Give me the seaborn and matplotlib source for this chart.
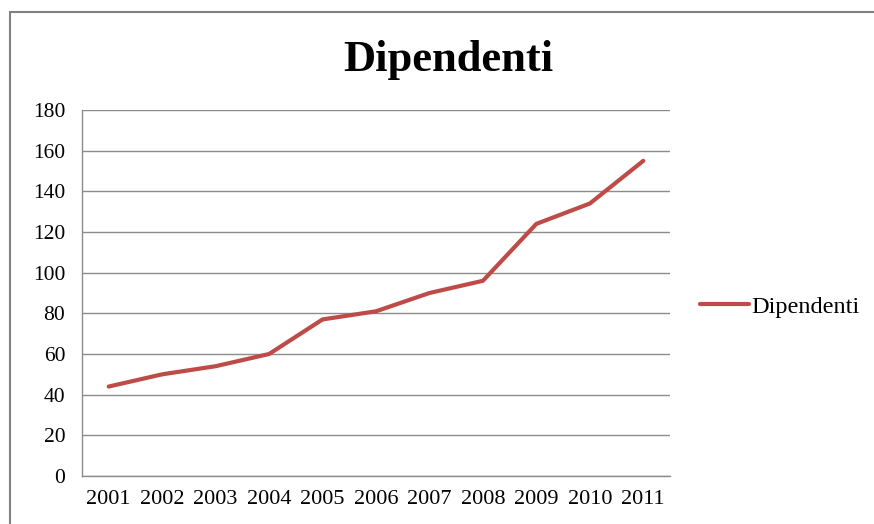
import matplotlib
matplotlib.use("Agg")
import matplotlib.pyplot as plt
from matplotlib.patches import Rectangle
import seaborn as sns
import pandas as pd
import numpy as np

years = ["2001", "2002", "2003", "2004", "2005", "2006", "2007", "2008", "2009", "2010", "2011"]
dipendenti = [44, 50, 54, 60, 77, 81, 90, 96, 124, 134, 155]
y_ticks = [0, 20, 40, 60, 80, 100, 120, 140, 160, 180]

sns.set_style("white")
plt.rcParams['font.family'] = ['Liberation Serif', 'DejaVu Serif']
plt.rcParams['text.color'] = 'black'
plt.rcParams['xtick.labelcolor'] = 'black'
plt.rcParams['ytick.labelcolor'] = 'black'

df = pd.DataFrame({"idx": np.arange(len(years)), "Anno": years, "Dipendenti": dipendenti})

fig = plt.figure(figsize=(8.74, 5.24), dpi=100)
ax = fig.add_axes([82/874, 1-476/524, (670-82)/874, (476-110)/524])

sns.lineplot(data=df, x="idx", y="Dipendenti", ax=ax, color="#BE4B48", linewidth=3.0,
             label="Dipendenti", solid_capstyle="round")

ax.set_xlim(-0.5, len(years) - 0.5)
ax.set_ylim(0, 180)
ax.set_yticks(y_ticks)
ax.set_yticklabels([str(v) for v in y_ticks], fontsize=15.5, color="black")
ax.set_xticks(np.arange(len(years)))
ax.set_xticklabels(years, fontsize=16, color="black")
ax.set_xticks(np.arange(len(years) + 1) - 0.5, minor=True)
ax.tick_params(axis="x", which="major", length=0, pad=10)
ax.tick_params(axis="x", which="minor", length=6, width=1, color="#888888", direction="out")
ax.tick_params(axis="y", which="major", length=6, width=1, color="#888888", direction="out", pad=6)
ax.set_xlabel("")
ax.set_ylabel("")
ax.yaxis.grid(True, color="#8c8c8c", linewidth=1)
ax.xaxis.grid(False)
for s in ["top", "right"]:
    ax.spines[s].set_visible(False)
for s in ["left", "bottom"]:
    ax.spines[s].set_color("#8c8c8c")
    ax.spines[s].set_linewidth(1)
ax.set_axisbelow(True)

leg = ax.legend(loc="center left", bbox_to_anchor=((700-82)/588, (476-307)/366), frameon=False,
                fontsize=17.5, handlelength=2.0, handletextpad=0.1, borderpad=0, borderaxespad=0)
for t in leg.get_texts():
    t.set_color("black")

fig.text(448/874, 1-60/524, "Dipendenti", ha="center", va="center", fontsize=32,
         fontweight="bold", color="black")

fig.add_artist(Rectangle((10/874, -0.1), 1.2, 1.1 - 12/524, transform=fig.transFigure,
                         fill=False, edgecolor="#808080", linewidth=1.5))

fig.savefig("out.png", dpi=100)
